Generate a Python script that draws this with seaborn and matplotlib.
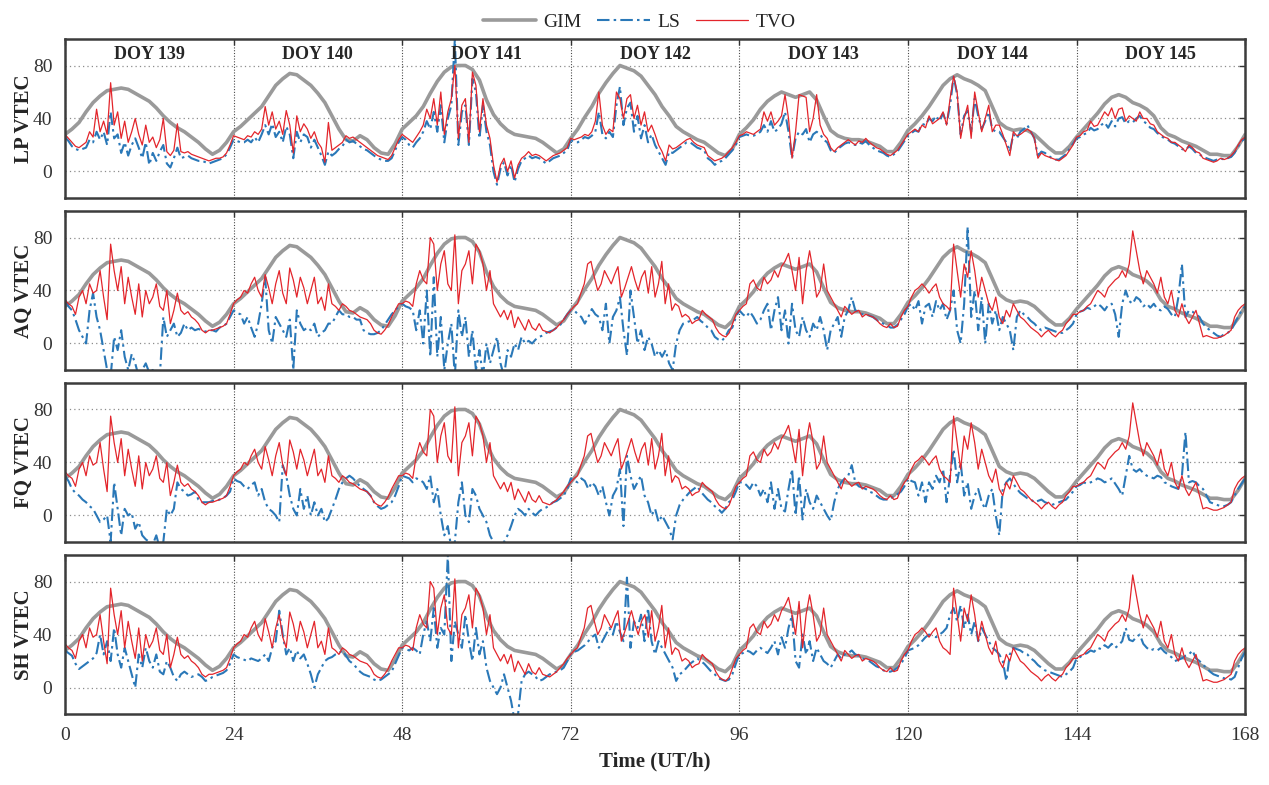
import numpy as np
import pandas as pd
import seaborn as sns
import matplotlib.pyplot as plt
from matplotlib.lines import Line2D

# ---- data (TECU) ----
# GIM, hourly 0..168 h, identical in all four panels
gim_vtec = [
    28, 32, 37, 45, 52, 57, 61, 62, 63, 62, 59, 56, 53, 48, 42, 37, 33, 30, 26, 22, 17, 13, 16, 22,
    30, 34, 39, 44, 49, 57, 65, 70, 74, 73, 69, 65, 59, 52, 42, 32, 24, 23, 27, 24, 18, 14, 13, 21,
    32, 37, 42, 49, 59, 68, 75, 79, 80, 80, 77, 69, 54, 43, 36, 31, 28, 27, 26, 25, 22, 18, 14, 17,
    25, 32, 41, 49, 59, 67, 74, 80, 78, 76, 72, 65, 58, 49, 42, 34, 30, 27, 24, 22, 18, 14, 12, 17,
    28, 33, 39, 47, 53, 57, 60, 58, 56, 58, 60, 54, 42, 31, 27, 25, 24, 24, 23, 21, 19, 15, 15, 22,
    31, 36, 42, 49, 57, 65, 70, 73, 70, 68, 65, 61, 49, 37, 33, 31, 32, 31, 28, 23, 18, 14, 14, 19,
    26, 32, 38, 44, 51, 56, 58, 56, 52, 50, 47, 42, 33, 28, 26, 23, 21, 19, 16, 13, 13, 12, 12, 19,
    28,
]

# half-hourly samples, one list per day (DOY 139..145), plus the value at 168 h
lp_tvo = [
    [28, 25, 22, 19, 18, 20, 22, 30, 26, 47, 30, 38, 28, 67, 35, 45, 25, 38, 22, 30, 40, 28, 20, 35,
     22, 26, 18, 24, 40, 15, 12, 16, 36, 15, 14, 15, 13, 12, 11, 10, 9, 8, 9, 10, 10, 11, 14, 20],
    [27, 26, 25, 24, 27, 26, 30, 28, 32, 49, 35, 45, 32, 38, 28, 46, 35, 14, 42, 30, 36, 32, 25, 30,
     22, 18, 7, 37, 16, 18, 20, 22, 27, 25, 26, 24, 22, 20, 18, 16, 14, 12, 11, 10, 9, 12, 18, 24],
    [28, 26, 24, 22, 26, 30, 35, 47, 40, 55, 35, 60, 28, 45, 55, 80, 25, 50, 55, 22, 75, 65, 30, 55,
     35, 25, 5, -8, 5, 10, 0, 8, -5, 5, 10, 12, 15, 12, 13, 12, 10, 8, 10, 12, 13, 14, 16, 18],
    [25, 24, 25, 26, 28, 27, 30, 38, 60, 35, 28, 32, 30, 60, 55, 40, 55, 58, 40, 50, 35, 45, 30, 35,
     28, 20, 15, 8, 20, 17, 18, 20, 22, 24, 25, 22, 20, 19, 18, 12, 10, 8, 9, 10, 12, 15, 18, 22],
    [27, 28, 30, 29, 28, 30, 32, 45, 38, 45, 35, 38, 42, 58, 40, 10, 30, 58, 57, 56, 30, 40, 58, 35,
     28, 25, 18, 15, 18, 20, 22, 24, 22, 20, 23, 22, 25, 22, 20, 18, 17, 15, 13, 12, 14, 16, 20, 24],
    [28, 30, 32, 30, 35, 33, 42, 36, 38, 40, 45, 35, 55, 72, 60, 25, 40, 50, 25, 60, 45, 30, 40, 50,
     30, 35, 35, 28, 20, 12, 30, 27, 28, 30, 32, 30, 25, 10, 14, 12, 11, 10, 9, 8, 10, 12, 16, 20],
    [26, 27, 30, 31, 38, 34, 35, 40, 45, 42, 48, 40, 47, 48, 38, 42, 40, 38, 45, 40, 40, 36, 35, 30,
     28, 26, 25, 22, 22, 20, 18, 15, 20, 18, 15, 14, 10, 9, 8, 7, 8, 10, 9, 10, 12, 15, 20, 24],
]
lp_tvo_end = 26

lp_ls = [
    [26, 23, 19, 17, 16, 17, 18, 24, 22, 30, 24, 30, 20, 45, 25, 28, 14, 22, 12, 20, 25, 18, 10, 22,
     5, 14, 8, 15, 20, 6, 3, 10, 18, 10, 11, 12, 10, 9, 8, 8, 7, 6, 7, 8, 9, 10, 13, 18],
    [24, 23, 22, 22, 24, 22, 26, 22, 28, 35, 28, 36, 26, 30, 22, 34, 28, 10, 30, 22, 28, 26, 18, 24,
     18, 12, 5, 15, 12, 14, 17, 19, 24, 22, 23, 21, 19, 17, 16, 14, 12, 10, 9, 8, 8, 10, 16, 22],
    [26, 24, 20, 18, 22, 25, 30, 38, 32, 45, 30, 50, 22, 40, 50, 100, 20, 45, 50, 20, 70, 60, 25, 50,
     30, 20, 0, -10, 2, 7, -3, 5, -8, 2, 8, 10, 12, 10, 11, 10, 8, 6, 8, 10, 11, 12, 14, 16],
    [24, 22, 22, 24, 26, 25, 27, 30, 45, 28, 25, 30, 26, 50, 64, 35, 48, 52, 30, 42, 25, 35, 22, 28,
     20, 15, 10, 5, 15, 14, 16, 18, 20, 22, 22, 20, 18, 17, 16, 10, 8, 5, 7, 8, 10, 13, 16, 20],
    [26, 27, 28, 27, 27, 28, 30, 35, 30, 38, 30, 32, 36, 45, 30, 10, 25, 30, 28, 32, 22, 28, 30, 28,
     24, 22, 16, 14, 17, 19, 21, 22, 21, 20, 22, 21, 23, 20, 18, 16, 15, 14, 12, 11, 13, 15, 19, 23],
    [27, 29, 31, 30, 36, 35, 40, 38, 42, 38, 44, 36, 50, 72, 58, 28, 42, 46, 30, 55, 42, 32, 38, 45,
     32, 30, 30, 26, 22, 15, 28, 25, 30, 32, 35, 30, 25, 12, 15, 14, 12, 10, 9, 9, 11, 13, 17, 21],
    [25, 26, 28, 29, 33, 31, 32, 35, 37, 33, 38, 34, 40, 41, 36, 38, 37, 40, 42, 38, 36, 33, 32, 29,
     27, 25, 24, 22, 21, 19, 17, 16, 19, 17, 14, 13, 11, 10, 9, 8, 9, 10, 9, 10, 11, 14, 19, 23],
]
lp_ls_end = 25

# TVO of AQ; FQ and SH show the same TVO curve
aq_tvo = [
    [33, 30, 28, 22, 35, 40, 30, 45, 38, 40, 55, 35, 18, 75, 55, 40, 58, 30, 50, 35, 22, 45, 20, 40,
     30, 35, 45, 28, 25, 40, 15, 25, 38, 25, 22, 24, 20, 18, 15, 10, 8, 10, 10, 11, 12, 13, 15, 22],
    [30, 33, 35, 40, 38, 45, 50, 40, 35, 52, 42, 30, 45, 55, 38, 30, 57, 48, 35, 50, 42, 30, 40, 50,
     30, 35, 25, 45, 30, 28, 25, 30, 28, 25, 24, 22, 20, 19, 18, 15, 10, 8, 7, 10, 14, 20, 25, 30],
    [30, 32, 31, 28, 45, 55, 48, 45, 80, 75, 40, 60, 70, 45, 40, 82, 30, 55, 60, 70, 45, 75, 70, 60,
     40, 55, 30, 25, 20, 25, 18, 25, 12, 20, 15, 10, 18, 12, 10, 15, 10, 9, 8, 10, 12, 15, 18, 22],
    [25, 28, 30, 38, 45, 60, 62, 50, 40, 45, 55, 50, 45, 52, 58, 35, 42, 50, 58, 48, 40, 50, 55, 38,
     58, 35, 45, 62, 30, 45, 25, 30, 28, 20, 22, 20, 15, 17, 18, 25, 22, 20, 18, 12, 8, 6, 5, 8, 15, 22],
    [25, 28, 30, 45, 48, 42, 40, 50, 45, 48, 55, 50, 58, 62, 68, 55, 40, 65, 30, 55, 70, 55, 35, 40,
     60, 40, 35, 30, 25, 20, 28, 25, 22, 24, 25, 20, 22, 21, 20, 18, 15, 13, 12, 15, 12, 13, 20, 25],
    [28, 35, 40, 42, 45, 42, 38, 42, 45, 35, 30, 28, 25, 75, 55, 35, 60, 50, 70, 55, 35, 50, 40, 30,
     25, 35, 20, 15, 25, 20, 30, 25, 20, 18, 15, 12, 10, 8, 5, 8, 10, 7, 5, 8, 10, 15, 18, 22],
    [22, 24, 25, 28, 30, 35, 40, 38, 35, 42, 45, 48, 50, 55, 50, 60, 85, 70, 55, 45, 55, 50, 45, 38,
     50, 35, 30, 40, 25, 20, 30, 20, 15, 20, 25, 15, 5, 6, 5, 4, 4, 5, 6, 8, 10, 20, 25, 28],
]
aq_tvo_end = 30

aq_ls = [
    [33, 28, 25, 18, 10, 5, 0, 25, 38, 20, 10, -5, -20, -25, 5, -5, 10, -10, -20, -8, -15, -25, -20, -15,
     -22, -20, -25, -25, 20, 5, 10, 15, 5, 8, 15, 10, 12, 10, 11, 10, 9, 10, 10, 9, 12, 13, 15, 20],
    [25, 23, 22, 15, 20, 12, 5, 15, 30, 50, 10, 0, 20, 15, 10, 5, 18, -20, 25, 15, 10, 12, 10, 15,
     5, 8, 10, 15, 15, 20, 25, 22, 22, 20, 20, 18, 18, 10, 8, 7, 7, 8, 10, 14, 18, 22, 25, 28],
    [30, 28, 27, 25, 10, 25, 0, 40, -10, 50, -10, 20, -20, 0, 15, -25, 25, 5, 20, -10, 10, -20, -5, -25,
     0, -15, -5, 5, -15, -25, -5, -10, 0, -5, 5, 0, 2, 0, 3, 5, 6, 8, 9, 10, 12, 14, 18, 22],
    [25, 25, 22, 20, 15, 20, 26, 22, 20, 10, 30, 0, 20, 25, 35, 10, -9, 40, 20, 0, 10, -5, 5, 0,
     -10, -5, -10, -5, -15, -20, 0, 10, 15, 16, 17, 18, 20, 17, 15, 12, 10, 5, 3, 2, 5, 10, 12, 20],
    [25, 22, 20, 24, 20, 15, 18, 25, 30, 10, 25, 35, 10, 25, 0, 30, 10, 5, 20, 10, 5, 15, 10, 20,
     10, -5, 10, 15, 20, 5, 20, 25, 35, 25, 24, 22, 22, 21, 20, 18, 16, 15, 14, 12, 12, 14, 18, 22],
    [28, 30, 25, 32, 15, 28, 30, 20, 32, 25, 30, 18, 25, 40, 10, 0, 30, 88, 20, 40, 10, 35, 0, 30,
     15, 25, 10, 20, 15, 10, -5, 20, 25, 22, 20, 17, 15, 12, 10, 12, 11, 10, 9, 8, 8, 10, 12, 15],
    [22, 24, 25, 27, 26, 28, 30, 28, 25, 29, 30, 22, 5, 30, 40, 32, 30, 35, 33, 28, 30, 27, 30, 26,
     25, 28, 26, 22, 20, 35, 60, 20, 25, 24, 22, 20, 15, 12, 10, 8, 6, 5, 7, 8, 10, 15, 20, 25],
]
aq_ls_end = 28

fq_ls = [
    [30, 26, 20, 17, 15, 12, 10, 7, 5, 0, -5, -3, 0, -20, 25, 5, -15, 5, 0, 2, -10, -5, -15, -18,
     -20, -22, -15, -25, -20, 5, 0, 5, 25, 20, 18, 15, 16, 18, 12, 10, 10, 10, 11, 11, 12, 13, 15, 18],
    [28, 26, 25, 22, 20, 23, 25, 15, 20, 10, 5, 3, 0, -5, 38, 30, 15, 5, 0, 20, 5, 15, 0, 10,
     0, 5, -5, -2, 5, 12, 20, 25, 28, 30, 28, 25, 22, 20, 18, 15, 10, 7, 5, 6, 8, 10, 15, 22],
    [30, 29, 28, 25, 28, 27, 25, 20, 30, 10, 20, 0, -15, -8, -25, -20, 10, 25, 0, -5, 20, 15, 5, 0,
     -5, -15, -20, -25, -25, -20, -15, -8, 0, 5, 3, 0, 5, 2, 0, 3, 5, 6, 8, 10, 11, 13, 15, 20],
    [28, 26, 25, 28, 26, 20, 25, 22, 15, 22, 10, 0, 15, 20, 35, -8, 45, 30, 20, 25, 30, 15, 10, 0,
     5, -5, 0, -5, -10, -18, 0, 8, 12, 15, 18, 20, 22, 18, 15, 12, 10, 7, 5, 2, 5, 10, 12, 18],
    [25, 25, 23, 20, 25, 22, 15, 20, 10, 25, 5, 20, 5, 3, 20, 35, 0, 30, -3, 20, 10, 5, 15, 10,
     5, 0, -4, 10, 20, 25, 28, 30, 38, 25, 22, 21, 20, 18, 17, 15, 13, 12, 12, 13, 14, 16, 18, 22],
    [28, 26, 25, 15, 25, 10, 25, 20, 30, 25, 35, 10, 30, 50, 25, 40, 15, 25, 5, 15, 20, 10, 5, 15,
     20, 0, -15, 20, 25, 28, 24, 20, 17, 15, 13, 12, 10, 11, 12, 10, 9, 8, 9, 10, 11, 12, 15, 18],
    [22, 23, 25, 24, 25, 26, 28, 27, 25, 26, 28, 24, 20, 15, 30, 45, 35, 33, 35, 32, 30, 29, 28, 30,
     29, 25, 24, 22, 21, 20, 30, 63, 25, 26, 25, 22, 20, 15, 10, 9, 8, 7, 7, 8, 10, 15, 20, 24],
]
fq_ls_end = 28

sh_ls = [
    [28, 26, 24, 18, 14, 16, 18, 20, 22, 26, 40, 25, 35, 20, 45, 25, 15, 30, 20, 10, 0, 25, 15, 30,
     20, 15, 25, 12, 10, 20, 15, 8, 5, 10, 12, 10, 8, 9, 10, 8, 5, 6, 8, 9, 10, 11, 13, 18],
    [25, 23, 22, 21, 20, 22, 21, 20, 22, 25, 20, 30, 35, 58, 40, 25, 30, 20, 28, 22, 25, 18, 10, 0,
     10, 15, 20, 22, 23, 25, 26, 28, 24, 20, 18, 15, 12, 10, 9, 8, 6, 5, 6, 8, 10, 12, 18, 24],
    [30, 29, 28, 30, 28, 25, 40, 50, 35, 60, 30, 45, 40, 100, 20, 50, 40, 30, 55, 35, 20, 45, 25, 35,
     15, 5, 0, -5, 0, 10, 0, -10, -25, -20, 5, 10, 12, 10, 8, 5, 6, 8, 10, 11, 12, 13, 15, 20],
    [25, 27, 28, 30, 32, 35, 38, 40, 30, 35, 40, 45, 40, 50, 42, 35, 83, 30, 50, 45, 55, 35, 60, 35,
     25, 35, 30, 25, 20, 15, 5, 10, 12, 15, 18, 20, 22, 20, 18, 15, 12, 10, 7, 6, 5, 6, 10, 18],
    [25, 26, 28, 27, 25, 28, 30, 28, 26, 30, 35, 25, 38, 30, 45, 55, 20, 15, 40, 25, 35, 20, 30, 25,
     20, 18, 15, 20, 25, 22, 25, 26, 28, 25, 24, 22, 21, 20, 18, 16, 15, 13, 12, 12, 13, 15, 18, 22],
    [28, 29, 30, 32, 35, 38, 40, 39, 38, 40, 42, 45, 55, 60, 50, 62, 45, 55, 40, 50, 35, 45, 40, 35,
     30, 28, 25, 20, 5, 25, 30, 29, 28, 26, 25, 22, 20, 17, 15, 13, 12, 11, 10, 9, 8, 10, 12, 15],
    [22, 23, 25, 26, 28, 27, 30, 29, 32, 30, 33, 30, 32, 35, 45, 36, 35, 38, 40, 33, 30, 28, 29, 28,
     30, 27, 25, 23, 20, 21, 22, 24, 25, 28, 22, 20, 17, 15, 12, 10, 9, 8, 7, 7, 6, 8, 15, 22],
]
sh_ls_end = 27

stations = ["LP", "AQ", "FQ", "SH"]
doys = [139, 140, 141, 142, 143, 144, 145]


def week(days, end):
    # spread each day's samples evenly over its 24 h
    t, v = [], []
    for d, vals in enumerate(days):
        n = len(vals)
        t += list(d * 24 + np.arange(n) * 24.0 / n)
        v += list(vals)
    return pd.DataFrame({"t": t + [168.0], "vtec": v + [end]})


gim_df = pd.DataFrame({"t": np.arange(len(gim_vtec)), "vtec": gim_vtec})
series = {
    "LP": (week(lp_ls, lp_ls_end), week(lp_tvo, lp_tvo_end)),
    "AQ": (week(aq_ls, aq_ls_end), week(aq_tvo, aq_tvo_end)),
    "FQ": (week(fq_ls, fq_ls_end), week(aq_tvo, aq_tvo_end)),
    "SH": (week(sh_ls, sh_ls_end), week(aq_tvo, aq_tvo_end)),
}

sns.set_style("white")
plt.rcParams["font.family"] = ["Liberation Serif", "DejaVu Serif"]

c_gim, c_ls, c_tvo = "#9a9a9a", "#2a78b8", "#e3252b"
ls_dash = (0, (6, 2, 1.2, 2))

fig = plt.figure(figsize=(12.69, 7.85), dpi=100)
bottoms = [0.7478, 0.5287, 0.3096, 0.0904]
for i, st in enumerate(stations):
    ax = fig.add_axes([0.0512, bottoms[i], 0.930, 0.2025])
    ls_df, tvo_df = series[st]
    sns.lineplot(data=gim_df, x="t", y="vtec", ax=ax, color=c_gim, linewidth=2.6,
                 estimator=None, sort=False, legend=False)
    sns.lineplot(data=ls_df, x="t", y="vtec", ax=ax, color=c_ls, linewidth=1.5,
                 linestyle=ls_dash, estimator=None, sort=False, legend=False)
    sns.lineplot(data=tvo_df, x="t", y="vtec", ax=ax, color=c_tvo, linewidth=0.9,
                 estimator=None, sort=False, legend=False)

    ax.set_xlim(0, 168)
    ax.set_ylim(-20, 100)
    ax.set_xticks(range(0, 169, 24))
    ax.set_yticks([0, 40, 80])
    ax.yaxis.grid(True, linestyle=(0, (1, 2.5)), color="#8c8c8c", linewidth=0.9)
    ax.xaxis.grid(True, linestyle=(0, (1, 1.5)), color="#4a4a4a", linewidth=0.8)
    ax.tick_params(direction="in", length=4, width=1, top=True, right=True,
                   labelsize=14, colors="#333333", pad=9)
    for sp in ax.spines.values():
        sp.set_color("#3c3c3c")
        sp.set_linewidth(1.8)
    ax.set_ylabel(f"{st} VTEC", fontsize=15, fontweight="bold")
    ax.yaxis.set_label_coords(-0.026, 0.5)
    if i < 3:
        ax.set_xticklabels([])
        ax.set_xlabel("")
    else:
        ax.set_xlabel("Time (UT/h)", fontsize=15, fontweight="bold", labelpad=6)
    if i == 0:
        for d, doy in enumerate(doys):
            ax.text(d * 24 + 12, 88, f"DOY {doy}", ha="center", va="center",
                    fontsize=13, fontweight="bold")

handles = [Line2D([], [], color=c_gim, lw=2.6),
           Line2D([], [], color=c_ls, lw=1.5, linestyle=ls_dash),
           Line2D([], [], color=c_tvo, lw=0.9)]
fig.legend(handles, ["GIM", "LS", "TVO"], loc="center", bbox_to_anchor=(0.504, 0.972),
           ncol=3, frameon=False, fontsize=14, handlelength=2.7, handletextpad=0.4,
           columnspacing=0.8)

fig.savefig("out.png", dpi=100)
